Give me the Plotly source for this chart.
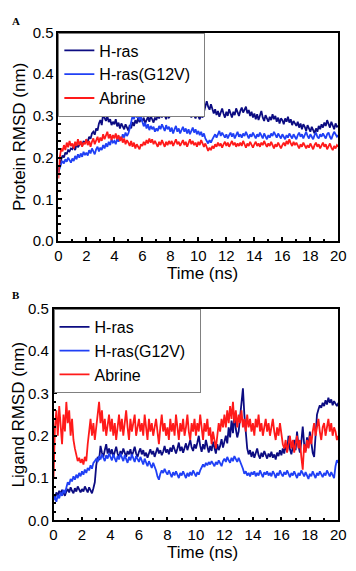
import plotly.graph_objects as go

# time axis, 0.1 ns step
time_ns = [round(i * 0.1, 1) for i in range(201)]

# Panel A: protein RMSD (nm)
prot_hras = [
    0.170, 0.185, 0.195, 0.205, 0.200, 0.212, 0.208, 0.218, 0.215, 0.222,
    0.220, 0.228, 0.218, 0.232, 0.225, 0.230, 0.236, 0.228, 0.240, 0.235,
    0.242, 0.238, 0.250, 0.245, 0.258, 0.262, 0.255, 0.270, 0.265, 0.282,
    0.290, 0.278, 0.305, 0.295, 0.288, 0.300, 0.285, 0.292, 0.278, 0.286,
    0.280, 0.292, 0.275, 0.284, 0.270, 0.282, 0.276, 0.268, 0.280, 0.272,
    0.265, 0.278, 0.270, 0.285, 0.276, 0.290, 0.282, 0.295, 0.285, 0.292,
    0.288, 0.296, 0.282, 0.290, 0.298, 0.286, 0.300, 0.292, 0.284, 0.296,
    0.290, 0.302, 0.294, 0.306, 0.296, 0.310, 0.300, 0.292, 0.304, 0.296,
    0.300, 0.315, 0.305, 0.320, 0.308, 0.298, 0.312, 0.302, 0.318, 0.306,
    0.298, 0.310, 0.300, 0.316, 0.305, 0.296, 0.308, 0.300, 0.294, 0.306,
    0.298, 0.292, 0.304, 0.296, 0.310, 0.320, 0.335, 0.322, 0.315, 0.328,
    0.318, 0.306, 0.316, 0.302, 0.312, 0.298, 0.308, 0.318, 0.305, 0.296,
    0.310, 0.300, 0.316, 0.305, 0.296, 0.310, 0.302, 0.318, 0.308, 0.300,
    0.312, 0.320, 0.308, 0.316, 0.322, 0.306, 0.314, 0.300, 0.310, 0.296,
    0.306, 0.292, 0.304, 0.290, 0.300, 0.312, 0.296, 0.288, 0.302, 0.294,
    0.286, 0.298, 0.290, 0.304, 0.292, 0.300, 0.286, 0.296, 0.282, 0.294,
    0.290, 0.280, 0.294, 0.286, 0.298, 0.284, 0.292, 0.278, 0.288, 0.282,
    0.276, 0.286, 0.272, 0.282, 0.268, 0.280, 0.274, 0.264, 0.278, 0.270,
    0.262, 0.274, 0.266, 0.258, 0.270, 0.262, 0.276, 0.268, 0.280, 0.272,
    0.284, 0.276, 0.290, 0.280, 0.272, 0.286, 0.278, 0.268, 0.282, 0.274,
    0.276,
]
prot_g12v = [
    0.165, 0.178, 0.185, 0.192, 0.186, 0.196, 0.190, 0.200, 0.194, 0.188,
    0.198, 0.192, 0.204, 0.196, 0.208, 0.200, 0.210, 0.202, 0.214, 0.206,
    0.212, 0.205, 0.218, 0.210, 0.222, 0.214, 0.208, 0.220, 0.226, 0.215,
    0.224, 0.218, 0.230, 0.222, 0.234, 0.226, 0.238, 0.230, 0.244, 0.236,
    0.240, 0.232, 0.246, 0.238, 0.250, 0.242, 0.256, 0.248, 0.260, 0.252,
    0.258, 0.270, 0.285, 0.300, 0.292, 0.308, 0.296, 0.305, 0.290, 0.298,
    0.286, 0.275, 0.284, 0.270, 0.280, 0.266, 0.276, 0.268, 0.274, 0.262,
    0.270, 0.264, 0.276, 0.268, 0.280, 0.272, 0.264, 0.278, 0.268, 0.274,
    0.262, 0.272, 0.258, 0.268, 0.276, 0.262, 0.270, 0.258, 0.266, 0.274,
    0.262, 0.270, 0.258, 0.268, 0.256, 0.264, 0.272, 0.260, 0.268, 0.256,
    0.264, 0.254, 0.262, 0.250, 0.258, 0.246, 0.240, 0.234, 0.242, 0.236,
    0.244, 0.250, 0.256, 0.248, 0.258, 0.264, 0.252, 0.260, 0.254, 0.248,
    0.256, 0.246, 0.254, 0.260, 0.250, 0.258, 0.246, 0.254, 0.262, 0.250,
    0.256, 0.248, 0.258, 0.252, 0.262, 0.254, 0.246, 0.256, 0.250, 0.260,
    0.252, 0.246, 0.256, 0.250, 0.260, 0.254, 0.246, 0.258, 0.250, 0.244,
    0.254, 0.248, 0.258, 0.252, 0.262, 0.256, 0.248, 0.258, 0.250, 0.246,
    0.256, 0.250, 0.244, 0.254, 0.248, 0.258, 0.252, 0.246, 0.256, 0.250,
    0.244, 0.254, 0.260, 0.250, 0.256, 0.246, 0.254, 0.262, 0.252, 0.246,
    0.256, 0.250, 0.244, 0.254, 0.260, 0.250, 0.246, 0.256, 0.250, 0.258,
    0.252, 0.246, 0.256, 0.260, 0.250, 0.244, 0.254, 0.262, 0.256, 0.250,
    0.254,
]
prot_abrine = [
    0.150, 0.200, 0.222, 0.215, 0.230, 0.218, 0.236, 0.225, 0.240, 0.228,
    0.234, 0.222, 0.238, 0.228, 0.244, 0.230, 0.240, 0.226, 0.236, 0.232,
    0.244, 0.230, 0.240, 0.226, 0.238, 0.246, 0.232, 0.242, 0.250, 0.236,
    0.248, 0.240, 0.256, 0.244, 0.252, 0.262, 0.246, 0.256, 0.242, 0.254,
    0.246, 0.258, 0.244, 0.254, 0.240, 0.250, 0.236, 0.246, 0.232, 0.242,
    0.236, 0.228, 0.240, 0.226, 0.236, 0.222, 0.232, 0.226, 0.220, 0.232,
    0.228, 0.238, 0.230, 0.242, 0.234, 0.246, 0.236, 0.244, 0.232, 0.240,
    0.234, 0.226, 0.238, 0.230, 0.242, 0.232, 0.226, 0.238, 0.230, 0.240,
    0.232, 0.240, 0.228, 0.236, 0.244, 0.232, 0.238, 0.228, 0.236, 0.242,
    0.230, 0.238, 0.226, 0.236, 0.244, 0.232, 0.240, 0.230, 0.236, 0.226,
    0.238, 0.230, 0.242, 0.234, 0.226, 0.234, 0.222, 0.216, 0.224, 0.218,
    0.228, 0.222, 0.232, 0.226, 0.236, 0.228, 0.234, 0.224, 0.232, 0.238,
    0.228, 0.236, 0.226, 0.234, 0.240, 0.230, 0.236, 0.226, 0.234, 0.228,
    0.236, 0.228, 0.240, 0.232, 0.224, 0.234, 0.228, 0.238, 0.230, 0.224,
    0.232, 0.238, 0.228, 0.234, 0.226, 0.236, 0.230, 0.240, 0.232, 0.226,
    0.234, 0.228, 0.238, 0.230, 0.222, 0.232, 0.226, 0.236, 0.228, 0.222,
    0.230, 0.236, 0.228, 0.240, 0.232, 0.244, 0.234, 0.228, 0.238, 0.230,
    0.236, 0.228, 0.222, 0.232, 0.226, 0.236, 0.228, 0.222, 0.230, 0.224,
    0.234, 0.226, 0.220, 0.230, 0.236, 0.226, 0.232, 0.222, 0.228, 0.236,
    0.226, 0.232, 0.220, 0.228, 0.234, 0.224, 0.218, 0.228, 0.222, 0.230,
    0.226,
]

# Panel B: ligand RMSD (nm)
lig_hras = [
    0.060, 0.052, 0.066, 0.058, 0.070, 0.062, 0.072, 0.064, 0.058, 0.068,
    0.074, 0.066, 0.078, 0.070, 0.064, 0.076, 0.068, 0.080, 0.072, 0.066,
    0.074, 0.068, 0.080, 0.072, 0.066, 0.078, 0.070, 0.064, 0.076, 0.090,
    0.130, 0.150, 0.142, 0.176, 0.160, 0.150, 0.166, 0.180, 0.158, 0.170,
    0.156, 0.168, 0.150, 0.162, 0.174, 0.158, 0.148, 0.164, 0.156, 0.170,
    0.160, 0.150, 0.164, 0.156, 0.168, 0.152, 0.162, 0.174, 0.158, 0.150,
    0.162, 0.170, 0.156, 0.166, 0.152, 0.160, 0.148, 0.158, 0.168, 0.156,
    0.164, 0.150, 0.160, 0.172, 0.158, 0.166, 0.154, 0.162, 0.176, 0.160,
    0.168, 0.156, 0.172, 0.162, 0.178, 0.166, 0.158, 0.170, 0.184, 0.164,
    0.174, 0.160, 0.170, 0.182, 0.166, 0.176, 0.190, 0.172, 0.164, 0.180,
    0.170, 0.184, 0.200, 0.176, 0.162, 0.180, 0.168, 0.190, 0.174, 0.160,
    0.176, 0.164, 0.186, 0.170, 0.158, 0.180, 0.166, 0.176, 0.192, 0.172,
    0.186, 0.200, 0.182, 0.220, 0.196, 0.236, 0.206, 0.250, 0.216, 0.196,
    0.210, 0.240, 0.270, 0.312, 0.250, 0.200, 0.170, 0.156, 0.166, 0.150,
    0.162, 0.148, 0.158, 0.170, 0.154, 0.146, 0.160, 0.150, 0.164, 0.152,
    0.146, 0.158, 0.150, 0.162, 0.148, 0.156, 0.144, 0.160, 0.152, 0.166,
    0.154, 0.170, 0.158, 0.180, 0.162, 0.200, 0.168, 0.156, 0.174, 0.190,
    0.166, 0.210, 0.176, 0.160, 0.186, 0.222, 0.180, 0.164, 0.196, 0.172,
    0.210, 0.180, 0.160, 0.150, 0.190, 0.250, 0.262, 0.272, 0.266, 0.278,
    0.270, 0.284, 0.274, 0.290, 0.278, 0.286, 0.272, 0.282, 0.276, 0.270,
    0.278,
]
lig_g12v = [
    0.048, 0.056, 0.044, 0.060, 0.052, 0.066, 0.058, 0.072, 0.064, 0.080,
    0.090, 0.084, 0.098, 0.092, 0.104, 0.096, 0.108, 0.100, 0.112, 0.104,
    0.116, 0.108, 0.120, 0.112, 0.124, 0.118, 0.130, 0.122, 0.136, 0.140,
    0.146, 0.138, 0.152, 0.144, 0.156, 0.148, 0.140, 0.154, 0.146, 0.158,
    0.150, 0.142, 0.156, 0.148, 0.138, 0.152, 0.144, 0.158, 0.150, 0.140,
    0.154, 0.146, 0.136, 0.150, 0.142, 0.156, 0.148, 0.138, 0.152, 0.144,
    0.138, 0.150, 0.140, 0.132, 0.146, 0.136, 0.128, 0.140, 0.132, 0.124,
    0.136, 0.128, 0.118, 0.104, 0.096, 0.110, 0.118, 0.112, 0.122, 0.114,
    0.108, 0.118, 0.110, 0.102, 0.114, 0.106, 0.116, 0.108, 0.100, 0.112,
    0.106, 0.116, 0.108, 0.100, 0.112, 0.104, 0.114, 0.106, 0.118, 0.110,
    0.104, 0.114, 0.108, 0.118, 0.124, 0.132, 0.126, 0.136, 0.130, 0.138,
    0.132, 0.140, 0.134, 0.128, 0.138, 0.132, 0.142, 0.136, 0.128, 0.140,
    0.146, 0.138, 0.150, 0.142, 0.136, 0.148, 0.140, 0.152, 0.144, 0.138,
    0.148, 0.140, 0.134, 0.122, 0.110, 0.116, 0.106, 0.112, 0.104, 0.114,
    0.108, 0.116, 0.104, 0.112, 0.106, 0.118, 0.110, 0.102, 0.114, 0.108,
    0.116, 0.106, 0.112, 0.104, 0.116, 0.110, 0.100, 0.112, 0.106, 0.118,
    0.110, 0.104, 0.114, 0.108, 0.118, 0.110, 0.102, 0.112, 0.106, 0.116,
    0.108, 0.100, 0.112, 0.106, 0.118, 0.110, 0.104, 0.114, 0.106, 0.098,
    0.110, 0.104, 0.116, 0.108, 0.100, 0.112, 0.106, 0.116, 0.108, 0.102,
    0.112, 0.106, 0.118, 0.110, 0.104, 0.114, 0.108, 0.100, 0.128, 0.142,
    0.136,
]
lig_abrine = [
    0.100, 0.220, 0.260, 0.200, 0.270, 0.230, 0.180, 0.250, 0.210, 0.280,
    0.230, 0.260, 0.200, 0.240, 0.190, 0.170, 0.150, 0.140, 0.148, 0.136,
    0.145, 0.132, 0.150, 0.140, 0.180, 0.210, 0.240, 0.200, 0.230, 0.190,
    0.220, 0.250, 0.280, 0.230, 0.260, 0.210, 0.240, 0.200, 0.230, 0.250,
    0.210, 0.240, 0.200, 0.230, 0.190, 0.220, 0.250, 0.210, 0.240, 0.200,
    0.230, 0.260, 0.220, 0.190, 0.240, 0.210, 0.230, 0.250, 0.200, 0.220,
    0.240, 0.210, 0.230, 0.200, 0.250, 0.220, 0.190, 0.240, 0.210, 0.230,
    0.200, 0.220, 0.240, 0.210, 0.180, 0.220, 0.250, 0.210, 0.230, 0.200,
    0.220, 0.190, 0.240, 0.210, 0.230, 0.200, 0.250, 0.220, 0.190, 0.230,
    0.210, 0.240, 0.200, 0.220, 0.250, 0.210, 0.190, 0.230, 0.210, 0.240,
    0.200, 0.230, 0.210, 0.250, 0.220, 0.190, 0.230, 0.210, 0.240, 0.200,
    0.220, 0.180, 0.210, 0.190, 0.170, 0.200, 0.230, 0.210, 0.240, 0.220,
    0.250, 0.220, 0.260, 0.230, 0.270, 0.240, 0.280, 0.230, 0.260, 0.220,
    0.250, 0.230, 0.260, 0.220, 0.240, 0.210, 0.250, 0.220, 0.240, 0.210,
    0.230, 0.200, 0.240, 0.220, 0.250, 0.210, 0.230, 0.200, 0.220, 0.240,
    0.210, 0.230, 0.200, 0.220, 0.240, 0.210, 0.190, 0.220, 0.200, 0.230,
    0.200, 0.180, 0.170, 0.190, 0.160, 0.180, 0.200, 0.170, 0.190, 0.160,
    0.180, 0.200, 0.170, 0.190, 0.150, 0.120, 0.180, 0.160, 0.190, 0.170,
    0.200, 0.180, 0.210, 0.230, 0.200, 0.220, 0.240, 0.210, 0.190, 0.220,
    0.230, 0.200, 0.220, 0.240, 0.210, 0.230, 0.200, 0.220, 0.210, 0.190,
    0.200,
]

names = ["H-ras", "H-ras(G12V)", "Abrine"]
colors = ["#0c0c82", "#2040f5", "#ff1a1a"]

# the page body has an 8px margin: the figure starts 8px in and
# only the part that fits in the 356x571 window is seen
PAD = 8
W, H = 356 - PAD, 571 - PAD


def px_x(p):
    return (p - PAD) / W


def px_y(p):
    return 1 - (p - PAD) / H


fig = go.Figure()

for i, (ys, nm) in enumerate(zip([prot_hras, prot_g12v, prot_abrine], names)):
    fig.add_trace(go.Scatter(x=time_ns, y=ys, mode="lines", name=nm + "\u00a0\u00a0",
                             line=dict(color=colors[i], width=1.8),
                             xaxis="x", yaxis="y", legend="legend"))
for i, (ys, nm) in enumerate(zip([lig_hras, lig_g12v, lig_abrine], names)):
    fig.add_trace(go.Scatter(x=time_ns, y=ys, mode="lines", name=nm + "\u00a0\u00a0",
                             line=dict(color=colors[i], width=1.8),
                             xaxis="x2", yaxis="y2", legend="legend2"))

font = dict(family="Liberation Sans, Arial, sans-serif", size=15, color="black")

axis_common = dict(
    showline=True, mirror=True, linecolor="black", linewidth=1.5,
    ticks="inside", ticklen=4, tickwidth=1.5, tickcolor="black",
    showgrid=False, zeroline=False, tickfont=font, ticklabeloverflow="allow",
)
xa = dict(axis_common, range=[0, 20], dtick=2, tick0=0,
          minor=dict(ticks="inside", dtick=1, ticklen=2.5, tickcolor="black"))
ya = dict(axis_common, range=[0, 0.5], dtick=0.1, tick0=0, tickformat=".1f",
          minor=dict(ticks="inside", dtick=0.02, ticklen=2.5, tickcolor="black"))

legend_common = dict(
    xanchor="left", yanchor="top", bgcolor="white",
    bordercolor="#808080", borderwidth=1, font=dict(font, size=16),
    tracegroupgap=0, itemwidth=30,
)

ann = dict(xref="paper", yref="paper", showarrow=False,
           xanchor="center", yanchor="middle")
label_font = dict(family="Liberation Serif, serif", size=11, color="black")

fig.update_layout(
    width=W, height=H,
    margin=dict(l=0, r=0, t=0, b=0),
    paper_bgcolor="white", plot_bgcolor="white",
    font=font,
    xaxis=dict(xa, domain=[px_x(56), px_x(346)], anchor="y"),
    yaxis=dict(ya, domain=[px_y(239), px_y(24)], anchor="x"),
    xaxis2=dict(xa, domain=[px_x(51), px_x(346)], anchor="y2"),
    yaxis2=dict(ya, domain=[px_y(527), px_y(309)], anchor="x2"),
    legend=dict(legend_common, x=px_x(56), y=px_y(24)),
    legend2=dict(legend_common, x=px_x(51), y=px_y(309)),
    annotations=[
        dict(ann, text="<b>A</b>", x=px_x(12), y=px_y(12), font=label_font),
        dict(ann, text="<b>B</b>", x=px_x(12), y=px_y(295), font=label_font),
        dict(ann, text="Protein RMSD (nm)", textangle=-90, x=px_x(15), y=px_y(132),
             font=dict(font, size=17)),
        dict(ann, text="Ligand RMSD (nm)", textangle=-90, x=px_x(15), y=px_y(418),
             font=dict(font, size=17)),
        dict(ann, text="Time (ns)", x=px_x(205), y=px_y(272), font=dict(font, size=17)),
        dict(ann, text="Time (ns)", x=px_x(205), y=px_y(560), font=dict(font, size=17)),
    ],
)

fig.write_html("out.html")
